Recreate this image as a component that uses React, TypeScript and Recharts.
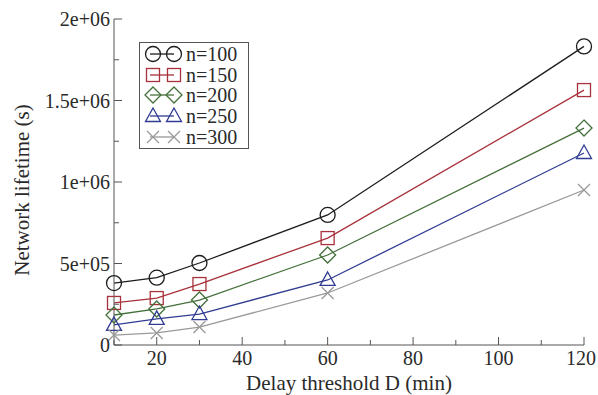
import { LineChart, Line, XAxis, YAxis, Legend, Label } from 'recharts';

const delays = [10, 20, 30, 60, 120];
const n100 = [380000, 413000, 503000, 798000, 1832000];
const n150 = [258000, 288000, 374000, 656000, 1564000];
const n200 = [184000, 221000, 276000, 552000, 1331000];
const n250 = [123000, 160000, 190000, 399000, 1178000];
const n300 = [61000, 74000, 110000, 319000, 951000];

const xTicks = [10, 20, 30, 40, 50, 60, 70, 80, 90, 100, 110, 120];
const yTicks = [0, 250000, 500000, 750000, 1000000, 1250000, 1500000, 1750000, 2000000];

const series = [
  { key: 'n100', name: 'n=100', color: '#1c1c1c', shape: 'circle', values: n100 },
  { key: 'n150', name: 'n=150', color: '#a8323c', shape: 'square', values: n150 },
  { key: 'n200', name: 'n=200', color: '#44703a', shape: 'diamond', values: n200 },
  { key: 'n250', name: 'n=250', color: '#303c92', shape: 'triangle', values: n250 },
  { key: 'n300', name: 'n=300', color: '#9a9a9a', shape: 'cross', values: n300 },
];

const data = delays.map((d, i) => {
  const row: Record<string, number> = { d };
  series.forEach((s) => (row[s.key] = s.values[i]));
  return row;
});

const FONT = '"Liberation Serif", serif';
const TEXT = '#2a2a2a';
const AXIS = '#555';

const fmtY = (v: number) => {
  if (v === 0) return '0';
  const [m, e] = v.toExponential().split('e');
  const exp = Math.abs(parseInt(e, 10));
  return `${m}e${e[0] === '-' ? '-' : '+'}${exp < 10 ? '0' + exp : exp}`;
};

const Marker = ({ shape, cx, cy, color }: { shape: string; cx: number; cy: number; color: string }) => {
  const p = { fill: 'none', stroke: color, strokeWidth: 1.3 };
  if (shape === 'circle') return <circle cx={cx} cy={cy} r={7.5} {...p} />;
  if (shape === 'square') return <rect x={cx - 6.5} y={cy - 6.5} width={13} height={13} {...p} />;
  if (shape === 'diamond')
    return <polygon points={`${cx},${cy - 8} ${cx + 8},${cy} ${cx},${cy + 8} ${cx - 8},${cy}`} {...p} />;
  if (shape === 'triangle')
    return <polygon points={`${cx},${cy - 8} ${cx + 7.5},${cy + 5.5} ${cx - 7.5},${cy + 5.5}`} {...p} />;
  return (
    <path d={`M${cx - 6},${cy - 6}L${cx + 6},${cy + 6}M${cx - 6},${cy + 6}L${cx + 6},${cy - 6}`} {...p} />
  );
};

const BottomTick = ({ x, y, payload }: any) => {
  const major = payload.value % 20 === 0;
  // last label sits right at the page edge, nudge it in a little
  const dx = payload.value === 120 ? -3 : 0;
  return (
    <g>
      <line x1={x} y1={y} x2={x} y2={y - (major ? 8 : 5)} stroke={AXIS} />
      {major && (
        <text x={x + dx} y={y + 20} textAnchor="middle" fontSize={20} fill={TEXT} fontFamily={FONT}>
          {payload.value}
        </text>
      )}
    </g>
  );
};

const TopTick = ({ x, y, payload }: any) => {
  const major = payload.value % 20 === 0;
  return <line x1={x} y1={y} x2={x} y2={y + (major ? 8 : 5)} stroke={AXIS} />;
};

const LeftTick = ({ x, y, payload }: any) => {
  const major = payload.value % 500000 === 0;
  return (
    <g>
      <line x1={x} y1={y} x2={x + (major ? 8 : 5)} y2={y} stroke={AXIS} />
      {major && (
        <text x={x - 4} y={y + 7} textAnchor="end" fontSize={20} fill={TEXT} fontFamily={FONT}>
          {fmtY(payload.value)}
        </text>
      )}
    </g>
  );
};

const RightTick = ({ x, y, payload }: any) => {
  const major = payload.value % 500000 === 0;
  return <line x1={x} y1={y} x2={x - (major ? 8 : 5)} y2={y} stroke={AXIS} />;
};

const LegendBox = () => (
  <div
    style={{
      width: 104,
      border: `1px solid ${AXIS}`,
      background: '#fff',
      padding: '1px 0 1px 4px',
      fontFamily: FONT,
      fontSize: 20,
      color: TEXT,
    }}
  >
    {series.map((s) => (
      <div key={s.key} style={{ display: 'flex', alignItems: 'center', height: 20.6 }}>
        <svg width={40} height={18} style={{ marginRight: 2 }}>
          <line x1={6} y1={9} x2={30} y2={9} stroke={s.color} strokeWidth={1.3} />
          <Marker shape={s.shape} cx={9} cy={9} color={s.color} />
          <Marker shape={s.shape} cx={30} cy={9} color={s.color} />
        </svg>
        <span style={{ lineHeight: '20px' }}>{s.name}</span>
      </div>
    ))}
  </div>
);

export default function App() {
  return (
    <div style={{ position: 'absolute', left: 0, top: 0, background: '#fff' }}>
      <LineChart
        width={598}
        height={395}
        data={data}
        margin={{ top: 19, right: 14, bottom: 5, left: 10 }}
      >
        <XAxis
          dataKey="d"
          type="number"
          domain={[10, 120]}
          ticks={xTicks}
          interval={0}
          height={45}
          tickSize={0}
          tickMargin={0}
          tickLine={false}
          axisLine={{ stroke: AXIS }}
          tick={<BottomTick />}
        >
          <Label
            value="Delay threshold D (min)"
            position="insideBottom"
            offset={0}
            fontSize={21}
            fill={TEXT}
            fontFamily={FONT}
          />
        </XAxis>
        <XAxis
          xAxisId="top"
          orientation="top"
          type="number"
          domain={[10, 120]}
          ticks={xTicks}
          interval={0}
          height={0}
          tickSize={0}
          tickMargin={0}
          tickLine={false}
          axisLine={{ stroke: AXIS }}
          tick={<TopTick />}
        />
        <YAxis
          type="number"
          domain={[0, 2000000]}
          ticks={yTicks}
          interval={0}
          width={104}
          tickSize={0}
          tickMargin={0}
          tickLine={false}
          axisLine={{ stroke: AXIS }}
          tick={<LeftTick />}
        >
          <Label
            value="Network lifetime (s)"
            angle={-90}
            position="insideLeft"
            offset={12}
            dy={8}
            fontSize={21}
            fill={TEXT}
            fontFamily={FONT}
            style={{ textAnchor: 'middle' }}
          />
        </YAxis>
        <YAxis
          yAxisId="right"
          orientation="right"
          type="number"
          domain={[0, 2000000]}
          ticks={yTicks}
          interval={0}
          width={0}
          tickSize={0}
          tickMargin={0}
          tickLine={false}
          axisLine={{ stroke: AXIS }}
          tick={<RightTick />}
        />
        <Legend
          content={<LegendBox />}
          layout="vertical"
          align="center"
          verticalAlign="middle"
          wrapperStyle={{ position: 'absolute', left: 139, top: 42, width: 'auto' }}
        />
        {series.map((s) => (
          <Line
            key={s.key}
            dataKey={s.key}
            name={s.name}
            stroke={s.color}
            strokeWidth={1.3}
            isAnimationActive={false}
            dot={(p: any) => <Marker key={`${s.key}-${p.index}`} shape={s.shape} cx={p.cx} cy={p.cy} color={s.color} />}
            activeDot={false}
          />
        ))}
      </LineChart>
    </div>
  );
}
